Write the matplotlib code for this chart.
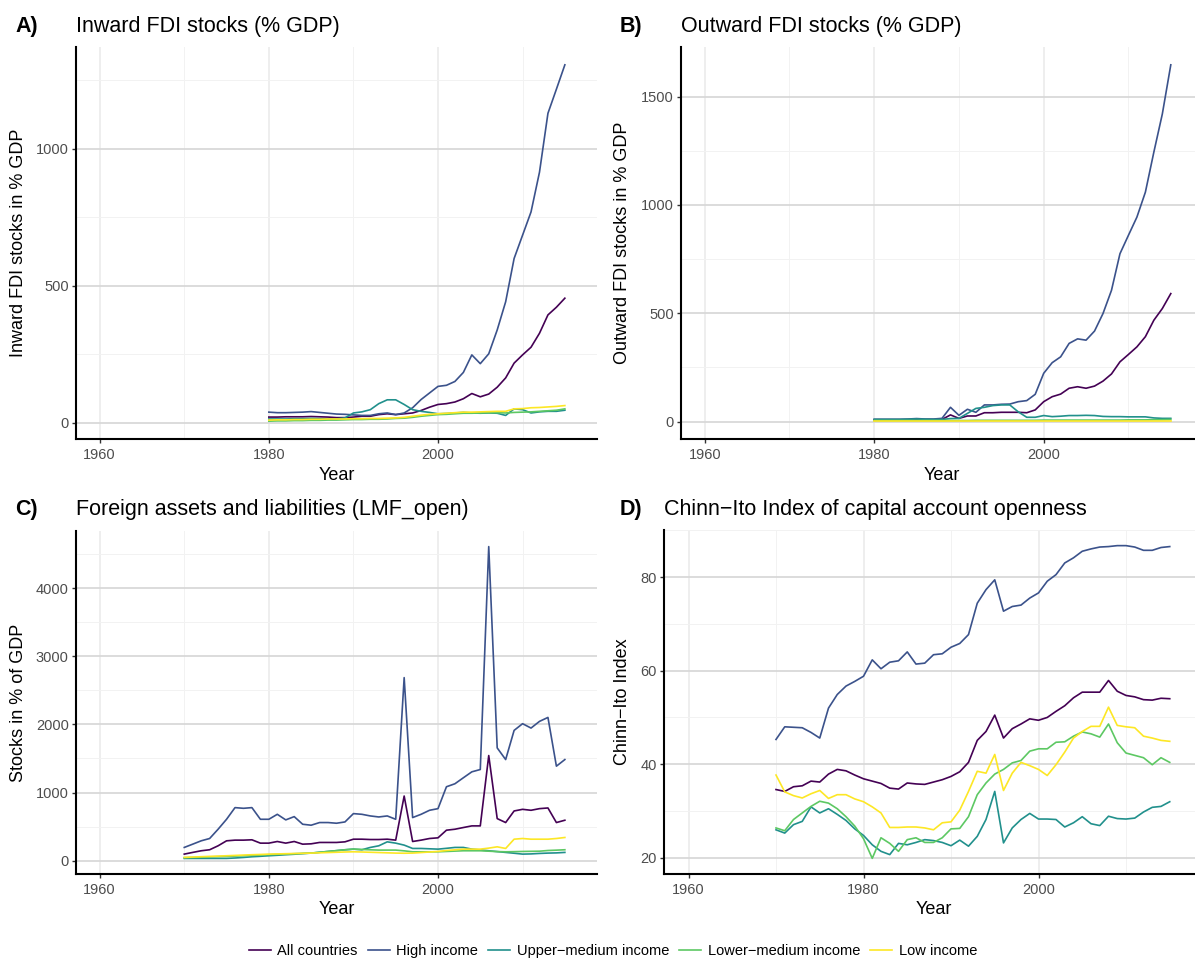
import numpy as np
import matplotlib
matplotlib.use("Agg")
import matplotlib.pyplot as plt
from matplotlib.ticker import MultipleLocator, AutoMinorLocator
from matplotlib.lines import Line2D

plt.rcParams["font.family"] = ["Liberation Sans", "DejaVu Sans"]

groups = ["All countries", "High income", "Upper\u2212medium income",
          "Lower\u2212medium income", "Low income"]
colors = ["#440154", "#3B528B", "#21908C", "#5DC863", "#FDE725"]

years_fdi = np.arange(1980, 2016)
years_long = np.arange(1970, 2016)

# A) inward FDI stocks, % GDP (1980-2015)
inward = {
    "All countries": [21, 21, 22, 22, 22, 23, 22, 21, 19, 19, 21, 24, 24, 30, 33, 30, 33, 36, 45, 57,
                      67, 70, 76, 88, 107, 95, 105, 130, 164, 218, 248, 276, 327, 394, 422, 455],
    "High income": [39, 37, 37, 38, 39, 41, 38, 35, 32, 31, 29, 27, 27, 33, 36, 30, 36, 55, 85, 109,
                    133, 137, 151, 184, 248, 216, 252, 339, 442, 600, 685, 770, 915, 1130, 1218, 1307],
    "Upper\u2212medium income": [14, 14, 14, 15, 15, 16, 15, 14, 14, 18, 36, 40, 48, 70, 84, 84, 67, 48, 42, 38,
                                 33, 34, 36, 38, 36, 35, 36, 35, 27, 51, 48, 36, 40, 42, 42, 46],
    "Lower\u2212medium income": [6, 7, 7, 8, 8, 9, 9, 10, 10, 11, 12, 12, 13, 13, 14, 16, 17, 20, 24, 27,
                                 30, 31, 33, 35, 35, 36, 37, 37, 36, 38, 39, 40, 42, 44, 46, 51],
    "Low income": [10, 11, 11, 12, 12, 13, 13, 14, 14, 14, 15, 15, 16, 16, 17, 18, 20, 24, 28, 31,
                   33, 35, 37, 39, 39, 40, 41, 42, 42, 51, 52, 55, 56, 58, 60, 63],
}

# B) outward FDI stocks, % GDP (1980-2015)
outward = {
    "All countries": [8, 8, 8, 8, 8, 9, 9, 9, 10, 31, 15, 26, 26, 41, 41, 43, 43, 43, 41, 54,
                      92, 115, 127, 154, 161, 154, 164, 187, 220, 276, 310, 345, 392, 468, 522, 591],
    "High income": [11, 11, 11, 11, 12, 14, 12, 12, 15, 66, 29, 57, 43, 77, 77, 80, 81, 92, 97, 126,
                    223, 272, 299, 361, 382, 376, 418, 499, 606, 775, 860, 944, 1059, 1244, 1420, 1647],
    "Upper\u2212medium income": [10, 10, 10, 10, 11, 12, 11, 10, 10, 14, 15, 38, 61, 66, 74, 77, 77, 45, 20, 20,
                                 28, 23, 25, 28, 28, 29, 28, 24, 23, 23, 22, 22, 22, 17, 15, 15],
    "Lower\u2212medium income": [5, 5, 5, 5, 5, 5, 5, 5, 5, 5, 5, 5, 6, 6, 6, 6, 6, 6, 6, 6,
                                 7, 7, 7, 7, 7, 7, 7, 7, 7, 7, 8, 8, 8, 9, 9, 10],
    "Low income": [2, 2, 2, 2, 2, 2, 2, 2, 2, 2, 2, 2, 2, 2, 2, 2, 2, 2, 2, 2,
                   2, 2, 2, 2, 2, 2, 2, 2, 2, 2, 2, 2, 2, 2, 2, 2],
}

# C) foreign assets and liabilities, % GDP (1970-2015)
lmf_open = {
    "All countries": [97, 122, 146, 161, 219, 292, 302, 302, 307, 258, 258, 282, 258, 282, 243, 248,
                      268, 268, 268, 277, 316, 316, 311, 311, 316, 302, 949, 282, 302, 326, 336, 448,
                      462, 487, 511, 511, 1543, 618, 560, 730, 754, 740, 764, 774, 560, 594],
    "High income": [195, 243, 292, 326, 462, 608, 779, 769, 779, 608, 608, 681, 599, 647, 535, 521,
                    560, 560, 550, 569, 691, 681, 657, 642, 657, 608, 2686, 633, 681, 740, 764, 1085,
                    1129, 1217, 1304, 1338, 4608, 1655, 1484, 1912, 2010, 1946, 2044, 2102, 1387, 1484],
    "Upper\u2212medium income": [34, 34, 34, 34, 34, 34, 40, 48, 58, 65, 73, 80, 88, 95, 104, 112,
                                 124, 136, 148, 161, 170, 161, 195, 219, 277, 258, 229, 180, 180, 175, 170, 182,
                                 195, 195, 170, 158, 146, 134, 122, 110, 97, 100, 107, 112, 115, 122],
    "Lower\u2212medium income": [44, 48, 52, 56, 60, 63, 68, 73, 78, 83, 88, 93, 98, 103, 108, 112,
                                 124, 136, 148, 160, 170, 165, 160, 156, 156, 156, 145, 131, 131, 131, 131, 136,
                                 141, 146, 146, 146, 140, 134, 131, 133, 136, 138, 140, 150, 155, 161],
    "Low income": [49, 54, 59, 64, 68, 73, 78, 83, 88, 92, 97, 100, 103, 106, 109, 112,
                   116, 120, 124, 128, 131, 128, 124, 120, 116, 112, 110, 112, 120, 128, 136, 150,
                   160, 170, 170, 170, 185, 204, 180, 316, 326, 316, 316, 316, 326, 341],
}

# D) Chinn-Ito index (1970-2015)
chinn_ito = {
    "All countries": [34.6, 34.2, 35.2, 35.4, 36.4, 36.2, 37.9, 38.9, 38.6, 37.7, 36.9, 36.4, 35.9, 34.9, 34.7, 36.0,
                      35.8, 35.7, 36.2, 36.7, 37.4, 38.4, 40.4, 45.1, 47.0, 50.5, 45.6, 47.6, 48.6, 49.7, 49.4, 50.0,
                      51.3, 52.5, 54.2, 55.4, 55.4, 55.4, 57.9, 55.6, 54.7, 54.4, 53.8, 53.7, 54.1, 54.0],
    "High income": [45.3, 48.0, 47.9, 47.8, 46.8, 45.6, 52.0, 54.9, 56.7, 57.7, 58.8, 62.3, 60.4, 61.8, 62.1, 64.0,
                    61.4, 61.6, 63.4, 63.6, 65.0, 65.8, 67.7, 74.4, 77.3, 79.4, 72.7, 73.7, 74.0, 75.5, 76.6, 79.1,
                    80.5, 83.0, 84.1, 85.5, 86.0, 86.4, 86.5, 86.7, 86.7, 86.4, 85.7, 85.7, 86.3, 86.5],
    "Upper\u2212medium income": [26.0, 25.3, 27.1, 27.8, 30.9, 29.6, 30.5, 29.3, 28.0, 26.2, 24.8, 22.8, 21.4, 20.7, 23.1, 22.8,
                                 23.3, 23.9, 23.7, 23.3, 22.6, 23.8, 22.5, 24.6, 28.2, 34.2, 23.2, 26.4, 28.2, 29.5, 28.3, 28.3,
                                 28.2, 26.6, 27.5, 28.8, 27.3, 26.9, 28.9, 28.4, 28.3, 28.5, 29.8, 30.8, 31.0, 32.0],
    "Lower\u2212medium income": [26.4, 25.8, 28.2, 29.6, 31.0, 32.1, 31.7, 30.5, 28.8, 26.8, 24.1, 19.9, 24.3, 23.1, 21.4, 23.9,
                                 24.3, 23.3, 23.3, 24.3, 26.2, 26.3, 28.8, 33.5, 36.0, 37.9, 38.9, 40.3, 40.8, 42.8, 43.3, 43.3,
                                 44.7, 44.8, 46.0, 46.9, 46.5, 45.8, 48.6, 44.6, 42.4, 41.9, 41.4, 39.9, 41.4, 40.4],
    "Low income": [37.7, 34.1, 33.3, 32.8, 33.7, 34.4, 32.7, 33.5, 33.5, 32.6, 32.0, 30.9, 29.6, 26.5, 26.5, 26.6,
                   26.6, 26.4, 26.0, 27.5, 27.7, 30.2, 34.2, 38.5, 38.1, 42.1, 34.4, 38.1, 40.4, 39.7, 38.9, 37.6,
                   39.9, 42.6, 45.6, 47.0, 48.1, 48.1, 52.2, 48.3, 48.0, 47.8, 46.0, 45.6, 45.1, 44.9],
}

W, H = 1195, 960
fig = plt.figure(figsize=(W / 100, H / 100), dpi=100)


def px_rect(left, top, right, bottom):
    return [left / W, 1 - bottom / H, (right - left) / W, (bottom - top) / H]


panels = [
    # tag, title, ylabel, data, years, y step, (l, t, r, b), tag x, ylabel x
    ("A)", "Inward FDI stocks (% GDP)", "Inward FDI stocks in % GDP", inward, years_fdi, 500,
     (76, 47, 597, 439), 15, 19),
    ("B)", "Outward FDI stocks (% GDP)", "Outward FDI stocks in % GDP", outward, years_fdi, 500,
     (681, 47, 1203, 439), 620, 623),
    ("C)", "Foreign assets and liabilities (LMF_open)", "Stocks in % of GDP", lmf_open, years_long, 1000,
     (76, 531, 597, 874), 15, 19),
    ("D)", "Chinn\u2212Ito Index of capital account openness", "Chinn\u2212Ito Index", chinn_ito, years_long, 20,
     (664, 530, 1203, 874), 620, 623),
]

for tag, title, ylab, data, years, ystep, box, tag_x, ylab_x in panels:
    l, t, r, b = box
    ax = fig.add_axes(px_rect(l, t, r, b))
    for g, c in zip(groups, colors):
        ax.plot(years, data[g], color=c, lw=1.2, solid_joinstyle="round")

    ax.set_xlim(1957.2, 2018.8)
    ax.xaxis.set_major_locator(MultipleLocator(20))
    ax.xaxis.set_minor_locator(AutoMinorLocator(2))
    ax.yaxis.set_major_locator(MultipleLocator(ystep))
    ax.yaxis.set_minor_locator(AutoMinorLocator(2))

    ax.grid(which="minor", color="#F2F2F2", lw=0.7)
    ax.grid(which="major", axis="x", color="#EBEBEB", lw=1.2)
    ax.grid(which="major", axis="y", color="#D6D6D6", lw=1.2)
    ax.set_axisbelow(True)

    for s in ["top", "right"]:
        ax.spines[s].set_visible(False)
    for s in ["left", "bottom"]:
        ax.spines[s].set_linewidth(1.5)
        ax.spines[s].set_color("black")

    ax.tick_params(which="major", length=3, width=1, color="#333333",
                   labelsize=10.5, labelcolor="#4D4D4D")
    ax.tick_params(axis="x", pad=3.5)
    ax.tick_params(axis="y", pad=2.2)
    ax.tick_params(which="minor", length=0)

    # titles, tags and axis titles, placed in figure pixels
    fig.text(l / W, 1 - 32 / H if t < 300 else 1 - 515 / H, title, fontsize=15.5,
             ha="left", va="baseline")
    fig.text(tag_x / W, 1 - 32 / H if t < 300 else 1 - 515 / H, tag, fontsize=15.5,
             fontweight="bold", ha="left", va="baseline")
    fig.text(ylab_x / W, 1 - (t + b) / 2 / H, ylab, fontsize=13, rotation=90,
             ha="center", va="center")
    fig.text((l + r) / 2 / W, 1 - (b + 36) / H, "Year", fontsize=13,
             ha="center", va="center")

handles = [Line2D([], [], color=c, lw=1.2) for c in colors]
fig.legend(handles, groups, loc="center", bbox_to_anchor=(613 / W, 1 - 951 / H),
           ncol=5, frameon=False, fontsize=10.5, handlelength=1.5,
           handletextpad=0.45, columnspacing=0.7, borderpad=0)

fig.savefig("out.png", dpi=100)
